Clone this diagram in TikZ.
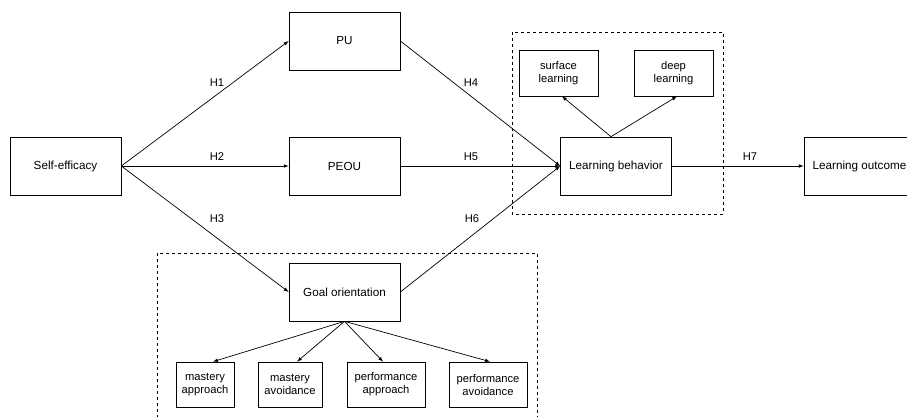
\documentclass[tikz,border=0pt]{standalone}
\usepackage{fontspec}
\setmainfont{Liberation Sans}
\usetikzlibrary{arrows}

\begin{document}
\begin{tikzpicture}[x=1pt, y=-1pt, line width=0.7pt,
	box/.style={draw, rectangle, inner sep=1pt, minimum width=111pt, minimum height=58pt, font=\fontsize{11.7}{13}\selectfont},
	subbox/.style={draw, rectangle, inner sep=1pt, minimum height=45pt, align=center, font=\fontsize{11.2}{13}\selectfont},
	hlabel/.style={font=\fontsize{11.2}{13}\selectfont},
	link/.style={-latex}]
	\path[use as bounding box, clip] (0,0) rectangle (907,417);
	% dashed groups
	\draw[dashed, line width=0.5pt] (512,32) rectangle (723,214);
	\draw[dashed, line width=0.5pt] (157,253) rectangle (537,440);
	% main constructs
	\node[box] (se) at (65.5,166) {Self-efficacy};
	\node[box] (pu) at (344.5,41) {PU};
	\node[box] (peou) at (344.5,166) {PEOU};
	\node[box] (go) at (344.5,292) {Goal orientation};
	\node[box] (lb) at (616,166) {Learning behavior};
	\node[box] (lo) at (859.5,166) {Learning outcome};
	% sub dimensions
	\node[subbox, minimum width=79pt, minimum height=46pt] (sl) at (558.5,73) {surface\\learning};
	\node[subbox, minimum width=79pt, minimum height=46pt] (dl) at (673.5,73) {deep\\learning};
	\node[subbox, minimum width=58pt] (map) at (205,384.5) {mastery\\approach};
	\node[subbox, minimum width=64pt] (mav) at (290,384.5) {mastery\\avoidance};
	\node[subbox, minimum width=78pt] (pap) at (386,384.5) {performance\\approach};
	\node[subbox, minimum width=78pt] (pav) at (488,384.5) {performance\\avoidance};
	% hypotheses
	\draw[link] (se.east) -- (pu.west);
	\draw[link] (se.east) -- (peou.west);
	\draw[link] (se.east) -- (go.west);
	\draw[link] (pu.east) -- (lb.west);
	\draw[link] (peou.east) -- (lb.west);
	\draw[link] (go.east) -- (lb.west);
	\draw[link] (lb.east) -- (lo.west);
	\node[hlabel] (h1) at (217,83) {H1};
	\node[hlabel] (h2) at (217,157) {H2};
	\node[hlabel] (h3) at (217,219) {H3};
	\node[hlabel] (h4) at (471,83) {H4};
	\node[hlabel] (h5) at (471,157) {H5};
	\node[hlabel] (h6) at (472,219) {H6};
	\node[hlabel] (h7) at (750,157) {H7};
	% dimensions
	\draw[link] (lb.north) ++(-5,0) coordinate (lbtop) -- ([xshift=3.5pt]sl.south);
	\draw[link] (lbtop) -- ([xshift=3.5pt]dl.south);
	\draw[link] (go.south) -- ([xshift=8pt]map.north);
	\draw[link] (go.south) -- ([xshift=7pt]mav.north);
	\draw[link] (go.south) -- ([xshift=-3pt]pap.north);
	\draw[link] (go.south) -- ([xshift=2pt]pav.north);
\end{tikzpicture}
\end{document}
